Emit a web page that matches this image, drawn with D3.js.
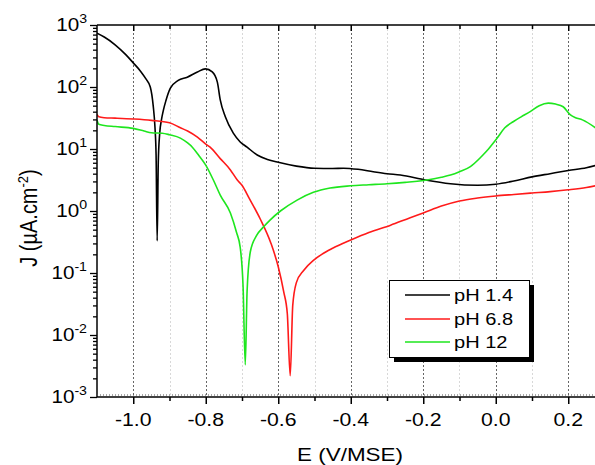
<!DOCTYPE html>
<html>
<head>
<meta charset="utf-8">
<script src="https://cdn.jsdelivr.net/npm/d3@7"></script>
<style>
html,body{margin:0;padding:0;background:#fff;}
svg{display:block;font-family:"Liberation Sans",Arial,sans-serif;}
</style>
</head>
<body>
<svg id="chart" width="595" height="465"></svg>
<script>
// ---------- data ----------
const seriesNames = ["pH 1.4", "pH 6.8", "pH 12"];
const seriesColors = ["#000000", "#ff1a1a", "#1ee61e"];

const eBlack = [-1.1,-1.08,-1.05,-1.02,-1.0,-0.98,-0.965,-0.953,-0.945,-0.94,-0.937,-0.934,-0.931,-0.927,-0.922,-0.917,-0.91,-0.898,-0.876,-0.851,-0.823,-0.801,-0.782,-0.768,-0.76,-0.746,-0.724,-0.705,-0.686,-0.658,-0.63,-0.6,-0.55,-0.5,-0.45,-0.42,-0.38,-0.338,-0.3,-0.263,-0.194,-0.125,-0.05,0.0,0.05,0.1,0.15,0.2,0.25,0.275];
const jBlack = [740,640,480,330,245,180,135,100,50,22,8,0.33,6,18,30,42,60,95,128,144,175,196,175,120,62,33,18,13,10.7,8,6.8,6.1,5.3,4.9,4.85,4.9,4.7,4.3,4.0,3.8,3.16,2.75,2.6,2.7,3.05,3.55,4.0,4.5,5.0,5.4];

const eRed = [-1.1,-1.095,-1.08,-1.05,-1.0,-0.95,-0.9,-0.87,-0.85,-0.823,-0.8,-0.788,-0.76,-0.732,-0.713,-0.7,-0.68,-0.65,-0.62,-0.6,-0.585,-0.575,-0.567,-0.56,-0.55,-0.53,-0.503,-0.48,-0.45,-0.4,-0.35,-0.29,-0.236,-0.2,-0.15,-0.1,-0.05,0.0,0.05,0.1,0.15,0.2,0.25,0.275];
const jRed = [36,33,32,31.5,30.5,29,26.5,22,19.5,15.5,12,10.7,7,4.6,3.16,2.6,1.6,0.75,0.3,0.126,0.05,0.022,0.0022,0.03,0.07,0.11,0.16,0.2,0.25,0.34,0.45,0.59,0.78,0.93,1.2,1.45,1.62,1.75,1.85,1.95,2.05,2.2,2.4,2.55];

const eGreen = [-1.1,-1.095,-1.08,-1.05,-1.0,-0.97,-0.95,-0.92,-0.9,-0.87,-0.85,-0.837,-0.82,-0.8,-0.779,-0.76,-0.732,-0.715,-0.705,-0.697,-0.691,-0.686,-0.677,-0.66,-0.641,-0.622,-0.594,-0.548,-0.503,-0.457,-0.4,-0.35,-0.3,-0.25,-0.19,-0.15,-0.125,-0.1,-0.07,-0.04,-0.02,0.004,0.025,0.048,0.07,0.095,0.12,0.145,0.165,0.186,0.206,0.22,0.239,0.275];
const jGreen = [29,25,24,23,21.5,19.5,18.3,18,17,15,12.5,10.7,8,5.5,3.16,1.8,0.93,0.45,0.26,0.06,0.0033,0.05,0.22,0.4,0.55,0.72,1.0,1.5,2.0,2.35,2.55,2.65,2.75,2.9,3.16,3.5,3.8,4.3,5.2,7.5,10,15,22,27.5,33,40,50,55,53,48,35.5,32,29.5,22];

const xMajorTicks = [-1.0,-0.8,-0.6,-0.4,-0.2,0.0,0.2];
const xMinorTicks = [-0.9,-0.7,-0.5,-0.3,-0.1,0.1];
const xTickLabels = ["-1.0","-0.8","-0.6","-0.4","-0.2","0.0","0.2"];
const yDecadeExps = [-3,-2,-1,0,1,2,3];
const xTitle = "E (V/MSE)";

// ---------- layout ----------
const svg = d3.select("#chart");
const L = 97, T = 25, B = 397;
const x = d3.scaleLinear().domain([-1.1, 0.3]).range([L, L + 1.4 * 362.5]);
const y = d3.scaleLog().domain([1e-3, 1e3]).range([B, T]);
const R = 595;
const SX = 1.18; // horizontal text stretch of the original bitmap

svg.append("rect").attr("width",595).attr("height",465).attr("fill","#fff");

// grid lines
svg.append("g").selectAll("line").data(xMinorTicks).join("line")
  .attr("x1", d => Math.round(x(d))+0.5).attr("x2", d => Math.round(x(d))+0.5)
  .attr("y1", T).attr("y2", B)
  .attr("stroke", "#d8d8d8").attr("stroke-width", 1).attr("stroke-dasharray", "2,2");
svg.append("g").selectAll("line").data(xMajorTicks).join("line")
  .attr("x1", d => Math.round(x(d))+0.5).attr("x2", d => Math.round(x(d))+0.5)
  .attr("y1", T).attr("y2", B)
  .attr("stroke", "#666").attr("stroke-width", 1).attr("stroke-dasharray", "2,2");

// curves
svg.append("clipPath").attr("id","clip").append("rect")
  .attr("x", L).attr("y", T).attr("width", R - L).attr("height", B - T);
const line = d3.line().x(d => x(d[0])).y(d => y(d[1])).curve(d3.curveMonotoneX);
const series = [
  d3.zip(eBlack, jBlack),
  d3.zip(eRed, jRed),
  d3.zip(eGreen, jGreen)
];
const gCurves = svg.append("g").attr("clip-path","url(#clip)");
series.forEach((s, i) => {
  gCurves.append("path").attr("d", line(s)).attr("fill","none")
    .attr("stroke", seriesColors[i]).attr("stroke-width", 1.6)
    .attr("stroke-linejoin","round");
});

// frame lines
svg.append("line").attr("x1", L).attr("x2", 600).attr("y1", T).attr("y2", T).attr("stroke","#000").attr("stroke-width",1.5);
svg.append("line").attr("x1", L).attr("x2", 600).attr("y1", B).attr("y2", B).attr("stroke","#000").attr("stroke-width",1.5);
svg.append("line").attr("x1", L).attr("x2", L).attr("y1", T).attr("y2", B).attr("stroke","#000").attr("stroke-width",1.5);

// x axis ticks (bottom outward, top inward)
const xMajorAxis = d3.axisBottom(x).tickValues(xMajorTicks).tickSize(7).tickFormat("");
const xMinorAxis = d3.axisBottom(x).tickValues(xMinorTicks).tickSize(4).tickFormat("");
[xMajorAxis, xMinorAxis].forEach(ax => {
  const g = svg.append("g").attr("transform", `translate(0,${B})`).call(ax);
  g.select(".domain").remove();
  g.selectAll("line").attr("stroke","#000").attr("stroke-width",1.5);
});
const xMajorTop = d3.axisBottom(x).tickValues(xMajorTicks).tickSize(6).tickFormat("");
const xMinorTop = d3.axisBottom(x).tickValues(xMinorTicks).tickSize(4).tickFormat("");
[xMajorTop, xMinorTop].forEach(ax => {
  const g = svg.append("g").attr("transform", `translate(0,${T})`).call(ax);
  g.select(".domain").remove();
  g.selectAll("line").attr("stroke","#000").attr("stroke-width",1.5);
});
// fine dotted row above bottom axis
svg.append("line").attr("x1", L).attr("x2", 600).attr("y1", B-2).attr("y2", B-2)
  .attr("stroke","#555").attr("stroke-width",1).attr("stroke-dasharray","1,2");

// x tick labels
xMajorTicks.forEach((v, i) => {
  svg.append("text").attr("transform", `translate(${x(v)},426) scale(${SX},1)`)
    .attr("text-anchor","middle").attr("font-size",18).attr("fill","#000")
    .text(xTickLabels[i]);
});

// y axis ticks
const yMajor = yDecadeExps.map(e => Math.pow(10, e));
const yMinor = [];
yDecadeExps.slice(0, -1).forEach(e => { for (let k = 2; k <= 9; k++) yMinor.push(k * Math.pow(10, e)); });
const yMajorAxis = d3.axisLeft(y).tickValues(yMajor).tickSize(7).tickFormat("");
const yMinorAxis = d3.axisLeft(y).tickValues(yMinor).tickSize(4).tickFormat("");
[yMajorAxis, yMinorAxis].forEach(ax => {
  const g = svg.append("g").attr("transform", `translate(${L},0)`).call(ax);
  g.select(".domain").remove();
  g.selectAll("line").attr("stroke","#000").attr("stroke-width",1.3);
});

// y tick labels (10^n)
yDecadeExps.forEach(e => {
  const t = svg.append("text").attr("transform", `translate(87,${y(Math.pow(10,e)) + 6}) scale(${SX},1)`)
    .attr("text-anchor","end").attr("font-size",17.5).attr("fill","#000");
  t.append("tspan").text("10");
  t.append("tspan").attr("dy",-8).attr("font-size",12).text(String(e));
});

// axis titles
svg.append("text").attr("transform", `translate(350,461) scale(${SX},1)`)
  .attr("text-anchor","middle").attr("font-size",19).attr("fill","#000").text(xTitle);
const yt = svg.append("text").attr("transform", "translate(37,218) rotate(-90) scale(1,1.15)")
  .attr("text-anchor","middle").attr("font-size",20).attr("fill","#000");
yt.append("tspan").text("J (\u00B5A.cm");
yt.append("tspan").attr("dy",-8).attr("font-size",13).text("-2");
yt.append("tspan").attr("dy",8).text(")");

// legend
const lg = svg.append("g");
lg.append("rect").attr("x",394).attr("y",285).attr("width",140).attr("height",77).attr("fill","#000");
lg.append("rect").attr("x",389.5).attr("y",280.5).attr("width",140).attr("height",77)
  .attr("fill","#fff").attr("stroke","#000").attr("stroke-width",1);
const legY = [295, 319, 342];
seriesNames.forEach((n, i) => {
  lg.append("line").attr("x1",405).attr("x2",450).attr("y1",legY[i]).attr("y2",legY[i])
    .attr("stroke", seriesColors[i]).attr("stroke-width",1.6);
  lg.append("text").attr("transform", `translate(454,${legY[i]+6}) scale(${SX},1)`)
    .attr("font-size",17).attr("fill","#000").text(n);
});
</script>
</body>
</html>
